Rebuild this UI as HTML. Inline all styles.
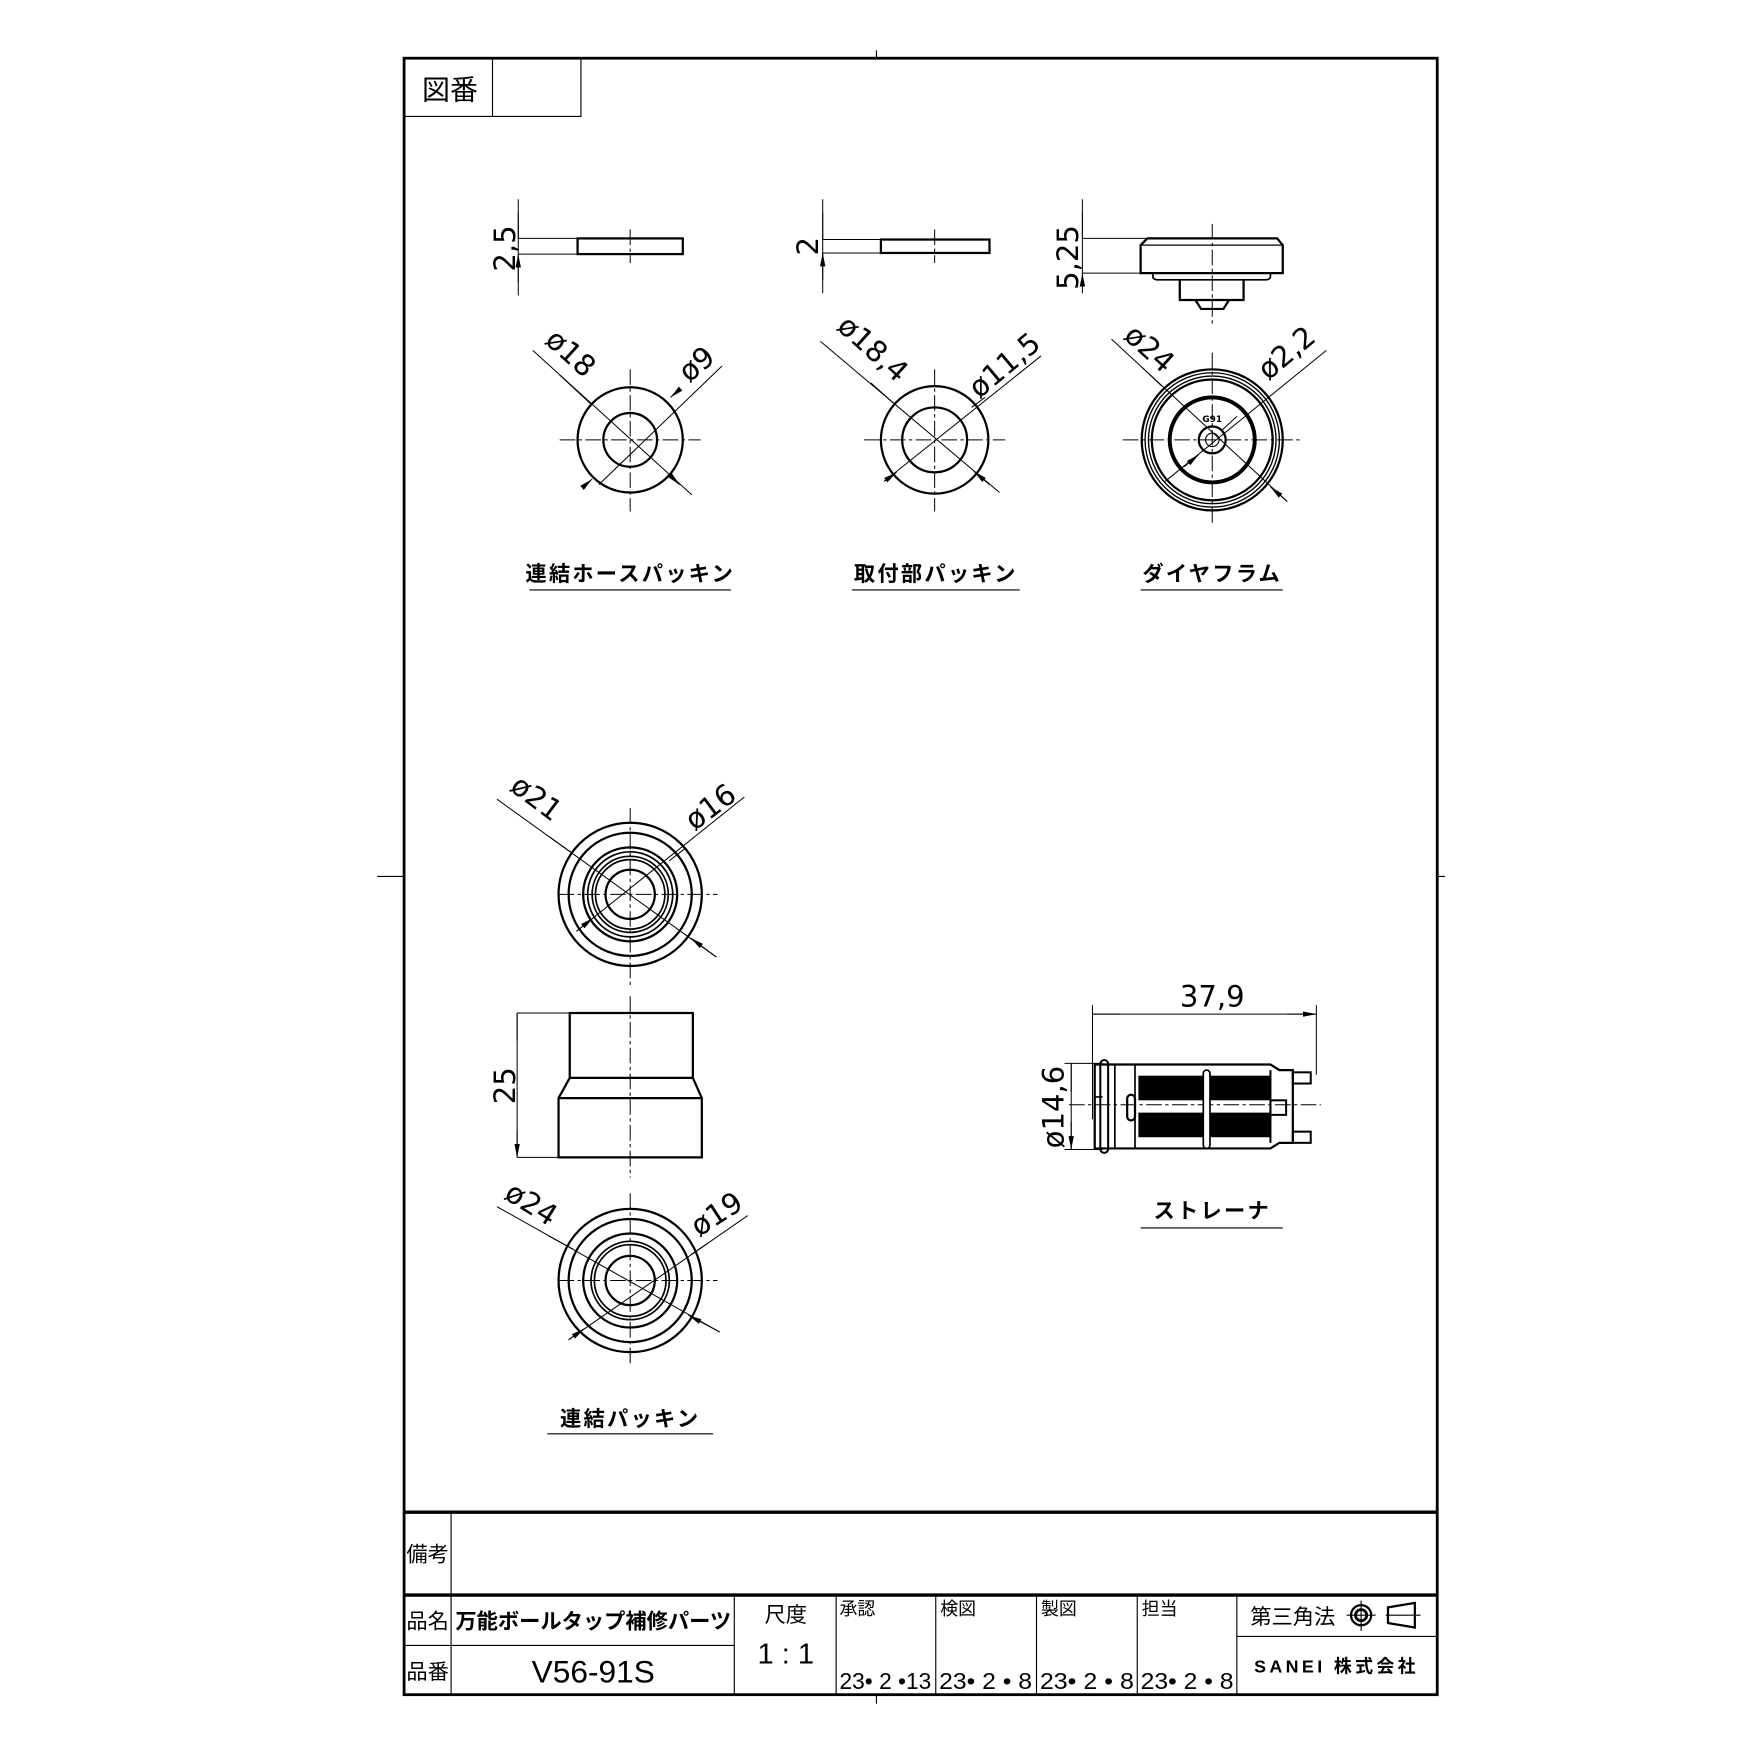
<!DOCTYPE html>
<html><head><meta charset="utf-8">
<style>
html,body{margin:0;padding:0;background:#fff;}
svg{display:block;}
text{font-family:"DejaVu Sans","Liberation Sans","Noto Sans CJK JP",sans-serif;fill:#000;}
.j{font-family:"Liberation Sans","Noto Sans CJK JP",sans-serif;}
</style></head><body>
<svg width="1754" height="1754" viewBox="0 0 1567 1567" xmlns="http://www.w3.org/2000/svg">
<defs>
<marker id="a" viewBox="0 0 10 4" refX="10" refY="2" markerWidth="12" markerHeight="5" markerUnits="userSpaceOnUse" orient="auto-start-reverse"><path d="M0,0L10,2L0,4z" fill="#000"/></marker>
</defs>
<g fill="none" stroke="#000">
<rect x="361" y="52" width="923" height="1462" stroke-width="2.5"/>
<path d="M783 45V52M337 783H361M1284 783H1291M783 1514V1522" stroke-width="1"/>
<path d="M361 104H519V52M440 52V104" stroke-width="1"/>
<path d="M361 1351H1284M361 1425H1284" stroke-width="3"/>
<path d="M403 1351V1514M361 1470H656M656 1425V1514M747 1425V1514M836 1425V1514M926 1425V1514M1016 1425V1514M1105 1425V1514M1105 1462H1284" stroke-width="1"/>

<g stroke-width="0.9" stroke-dasharray="14,3,3,3">
<path d="M563 205V235M835 205V235M1083 200V290"/>
<path d="M500 393H626M563 330V457M772 393H898M835 330V457M1003 393H1163M1083 315V470"/>
<path d="M499 799H641M563 722V880M563 890V1052M499 1144H641M563 1066V1220M955 987H1180"/>
</g>

<rect x="516" y="213" width="94" height="14" stroke-width="2"/>
<path d="M463 178V264M463 213H516M463 227H516" stroke-width="0.9"/>
<path d="M463 190V213M463 252V227" stroke-width="0.9" marker-end="url(#a)"/>
<circle cx="563" cy="393" r="47" stroke-width="2"/>
<circle cx="563" cy="393" r="24" stroke-width="2"/>
<path d="M476 313L618 442M645 327L535 433" stroke-width="0.9"/>
<path d="M500 335L528 361M600 426L607 433" stroke-width="0.9" marker-end="url(#a)"/>
<path d="M606 349L599 355" stroke-width="0.9" marker-end="url(#a)"/>
<path d="M521 435L529 428" stroke-width="0.9" marker-end="url(#a)"/>
<path d="M473 527H653M761 527H911M1019 527H1146M489 1281H637M1019 1097H1146" stroke-width="1"/>

<rect x="787" y="214" width="97" height="12" stroke-width="2"/>
<path d="M735 178V262M735 214H787M735 226H787" stroke-width="0.9"/>
<path d="M735 190V214M735 250V226" stroke-width="0.9" marker-end="url(#a)"/>
<circle cx="835" cy="393" r="48" stroke-width="2"/>
<circle cx="835" cy="393" r="29" stroke-width="2"/>
<path d="M733 305L893 440M930 318L790 430" stroke-width="0.9"/>
<path d="M778 342L798 360M884 433L870 421" stroke-width="0.9" marker-end="url(#a)"/>
<path d="M880 355L868 364M790 430L801 422" stroke-width="0.9" marker-end="url(#a)"/>

<path d="M1025 213H1141L1146 219V244H1019V219Z" stroke-width="2"/>
<path d="M1020 219H1145" stroke-width="1.2"/>
<path d="M1030 244V247Q1030 250 1035 250H1130Q1135 250 1135 247V244" stroke-width="1.5"/>
<path d="M1054 250V268H1111V250M1068 268L1073 276H1093L1098 268" stroke-width="2"/>
<path d="M967 178V262M967 213H1025M967 244H1019" stroke-width="0.9"/>
<path d="M967 190V213M967 256V244" stroke-width="0.9" marker-end="url(#a)"/>
<circle cx="1083" cy="393" r="63" stroke-width="2"/>
<circle cx="1083" cy="393" r="60" stroke-width="1.2"/>
<circle cx="1083" cy="393" r="57" stroke-width="1.2"/>
<circle cx="1083" cy="393" r="54" stroke-width="2"/>
<circle cx="1083" cy="393" r="38" stroke-width="3.5"/>
<circle cx="1083" cy="393" r="12" stroke-width="2"/>
<circle cx="1083" cy="393" r="6" stroke-width="1"/>
<path d="M993 303L1150 448M1185 313L1041 430" stroke-width="0.9"/>
<path d="M1020 328L1038 345M1150 448L1135 435" stroke-width="0.9" marker-end="url(#a)"/>
<path d="M1105 372L1092 384M1058 417L1071 406" stroke-width="0.9" marker-end="url(#a)"/>

<circle cx="563" cy="799" r="64" stroke-width="2"/>
<circle cx="563" cy="799" r="55" stroke-width="2"/>
<circle cx="563" cy="799" r="42" stroke-width="2"/>
<circle cx="563" cy="799" r="38" stroke-width="1.5"/>
<circle cx="563" cy="799" r="34" stroke-width="1.5"/>
<circle cx="563" cy="799" r="31" stroke-width="1.5"/>
<circle cx="563" cy="799" r="22" stroke-width="2"/>
<path d="M444 714L640 855M665 712L515 832" stroke-width="0.9"/>
<path d="M490 747L511 762M640 855L617 838" stroke-width="0.9" marker-end="url(#a)"/>
<path d="M612 758L598 769M515 832L530 820" stroke-width="0.9" marker-end="url(#a)"/>
<path d="M509 963V905H619V963L627 981V1034H499V981L509 963H619M499 981H627" stroke-width="2"/>
<path d="M462 905V1034M462 905H509M462 1034H499" stroke-width="0.9"/>
<path d="M462 930V905M462 1010V1034" stroke-width="0.9" marker-end="url(#a)"/>
<circle cx="563" cy="1144" r="64" stroke-width="2"/>
<circle cx="563" cy="1144" r="55" stroke-width="2"/>
<circle cx="563" cy="1144" r="42" stroke-width="2"/>
<circle cx="563" cy="1144" r="35" stroke-width="1.5"/>
<circle cx="563" cy="1144" r="32" stroke-width="1.5"/>
<circle cx="563" cy="1144" r="22" stroke-width="2"/>
<path d="M444 1078L643 1190M668 1086L508 1197" stroke-width="0.9"/>
<path d="M490 1104L512 1116M643 1190L615 1175" stroke-width="0.9" marker-end="url(#a)"/>
<path d="M632 1111L617 1121M508 1197L522 1187" stroke-width="0.9" marker-end="url(#a)"/>

<path d="M976 898V1000M1176 898V960" stroke-width="0.9"/>
<path d="M1000 906H976M1150 906H1176" stroke-width="0.9" marker-end="url(#a)"/>
<path d="M976 906H1176" stroke-width="0.9"/>
<path d="M951 950H985M951 1027H985M957 950V1027" stroke-width="0.9"/>
<path d="M957 975V950M957 1002V1027" stroke-width="0.9" marker-end="url(#a)"/>
<path d="M978 951H1135L1143 956H1155V1021H1143L1135 1026H978Z" stroke-width="2"/>
<path d="M996 951V1026M1014 951V1026M978 990V980H985" stroke-width="1.5"/>
<rect x="983" y="947" width="7" height="83" rx="3.5" stroke-width="1.8"/>
<rect x="1007" y="978" width="7" height="23" rx="3.5" stroke-width="2"/>
<rect x="1155" y="958" width="16" height="10" stroke-width="1.8"/>
<rect x="1155" y="1011" width="16" height="10" stroke-width="1.8"/>
<rect x="1135" y="983" width="14" height="13" stroke-width="1.8"/>
<path d="M1135 956V1021" stroke-width="1.8"/>
</g>
<g fill="#000">
<rect x="1017" y="961" width="118" height="22"/>
<rect x="1017" y="994" width="118" height="22"/>
</g>
<g fill="#fff" stroke="#000" stroke-width="1.5">
<rect x="1075" y="956" width="6" height="70" rx="3"/>
</g>

<text x="402" y="89" class="j" font-size="25" text-anchor="middle">図番</text>
<g font-size="26">
<text transform="translate(460,222) rotate(-90)" text-anchor="middle">2,5</text>
<text transform="translate(731,220) rotate(-90)" text-anchor="middle">2</text>
<text transform="translate(963,230) rotate(-90)" text-anchor="middle">5,25</text>
<text transform="translate(460,970) rotate(-90)" text-anchor="middle">25</text>
<text transform="translate(950,989) rotate(-90)" text-anchor="middle">ø14,6</text>
<text x="1083" y="899" text-anchor="middle">37,9</text>
<text transform="translate(504,322) rotate(42)" text-anchor="middle">ø18</text>
<text transform="translate(628,332) rotate(-40)" text-anchor="middle">ø9</text>
<text transform="translate(774,318) rotate(42)" text-anchor="middle">ø18,4</text>
<text transform="translate(903,333) rotate(-40)" text-anchor="middle">ø11,5</text>
<text transform="translate(1021,318) rotate(42)" text-anchor="middle">ø24</text>
<text transform="translate(1155,322) rotate(-40)" text-anchor="middle">ø2,2</text>
<text transform="translate(474,720) rotate(37)" text-anchor="middle">ø21</text>
<text transform="translate(640,728) rotate(-37)" text-anchor="middle">ø16</text>
<text transform="translate(470,1083) rotate(32)" text-anchor="middle">ø24</text>
<text transform="translate(645,1092) rotate(-33)" text-anchor="middle">ø19</text>
</g>
<text x="1083" y="377" font-size="8" font-weight="bold" text-anchor="middle">G91</text>
<g class="j" font-size="19" font-weight="bold" text-anchor="middle" letter-spacing="2">
<text x="563" y="519" class="j">連結ホースパッキン</text>
<text x="836" y="519" class="j">取付部パッキン</text>
<text x="1083" y="519" class="j">ダイヤフラム</text>
<text x="563" y="1274" class="j">連結パッキン</text>
<text x="1083" y="1088" class="j">ストレーナ</text>
</g>
<g class="j" font-size="19">
<text x="382" y="1395" text-anchor="middle" class="j">備考</text>
<text x="382" y="1455" text-anchor="middle" class="j">品名</text>
<text x="382" y="1500" text-anchor="middle" class="j">品番</text>
<text x="530" y="1455" text-anchor="middle" font-weight="bold" class="j">万能ボールタップ補修パーツ</text>
<text x="702" y="1449" text-anchor="middle" class="j">尺度</text>
<text x="750" y="1443" font-size="16" class="j">承認</text>
<text x="840" y="1443" font-size="16" class="j">検図</text>
<text x="930" y="1443" font-size="16" class="j">製図</text>
<text x="1020" y="1443" font-size="16" class="j">担当</text>
<text x="1117" y="1451" class="j">第三角法</text>
<text x="1194" y="1494" text-anchor="middle" font-size="16" font-weight="bold" class="j" letter-spacing="3">SANEI 株式会社</text>
</g>
<text x="530" y="1503" text-anchor="middle" font-size="28" class="j" textLength="110" lengthAdjust="spacingAndGlyphs">V56-91S</text>
<text x="702" y="1486" text-anchor="middle" font-size="26" class="j" xml:space="preserve">1 : 1</text>
<g font-size="21" class="j">
<text x="750" y="1509" class="j" textLength="82" lengthAdjust="spacingAndGlyphs">23• 2 •13</text>
<text x="839" y="1509" class="j" textLength="83" lengthAdjust="spacingAndGlyphs">23• 2 • 8</text>
<text x="929" y="1509" class="j" textLength="84" lengthAdjust="spacingAndGlyphs">23• 2 • 8</text>
<text x="1019" y="1509" class="j" textLength="83" lengthAdjust="spacingAndGlyphs">23• 2 • 8</text>
</g>
<g fill="none" stroke="#000">
<circle cx="1216" cy="1443" r="9" stroke-width="2"/>
<circle cx="1216" cy="1443" r="5" stroke-width="2.5"/>
<path d="M1203 1443H1229M1216 1430V1457M1238 1443H1269" stroke-width="1"/>
<path d="M1240 1436L1264 1432V1454L1240 1450Z" stroke-width="2"/>
</g>
</svg>
</body></html>
